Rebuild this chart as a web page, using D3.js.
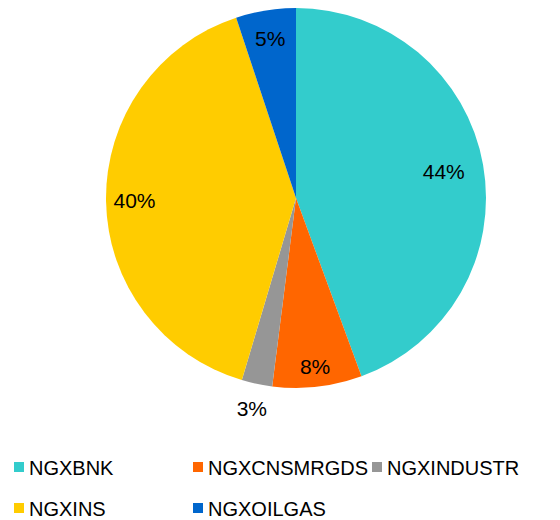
<!DOCTYPE html>
<html><head><meta charset="utf-8">
<script src="https://cdn.jsdelivr.net/npm/d3@7"></script>
<style>body{margin:0;background:#fff;}svg{display:block;font-family:"Liberation Sans",Arial,sans-serif;}</style>
</head><body>
<svg id="c" width="560" height="520"></svg>
<script>
const categories = ["NGXBNK","NGXCNSMRGDS","NGXINDUSTR","NGXINS","NGXOILGAS"];
const values = [44.4, 7.6, 2.6, 40.3, 5.1];
const colors = ["#33CCCC","#FF6600","#969696","#FFCC00","#0066CC"];
const labelRadiusFactor = [0.79, 0.89, 1.13, 0.85, 0.85];

const svg = d3.select("#c");
const cx = 296, cy = 198, r = 190;
const g = svg.append("g").attr("transform", `translate(${cx},${cy})`);
const pie = d3.pie().sort(null).value(d => d)(values);
const arc = d3.arc().innerRadius(0).outerRadius(r);
const total = d3.sum(values);

g.selectAll("path").data(pie).join("path")
  .attr("d", arc).attr("fill", (d,i) => colors[i]);

g.selectAll("text.lbl").data(pie).join("text")
  .attr("class","lbl")
  .each(function(d,i){
    const a = (d.startAngle + d.endAngle)/2;
    const rr = r*labelRadiusFactor[i];
    d3.select(this).attr("x", Math.sin(a)*rr).attr("y", -Math.cos(a)*rr);
  })
  .attr("text-anchor","middle").attr("dominant-baseline","central")
  .attr("font-size", 21).attr("fill","#000")
  .text(d => Math.round(d.value/total*100) + "%");

const legendPos = [[14,467],[193,467],[372,467],[14,508],[193,508]];
const lg = svg.append("g");
categories.forEach((c,i) => {
  const [x,y] = legendPos[i];
  lg.append("rect").attr("x", x).attr("y", y-5).attr("width", 10).attr("height", 10).attr("fill", colors[i]);
  lg.append("text").attr("x", x+15).attr("y", y+1).attr("dominant-baseline","central")
    .attr("font-size", 20).attr("fill","#000").text(c);
});
</script>
</body></html>
